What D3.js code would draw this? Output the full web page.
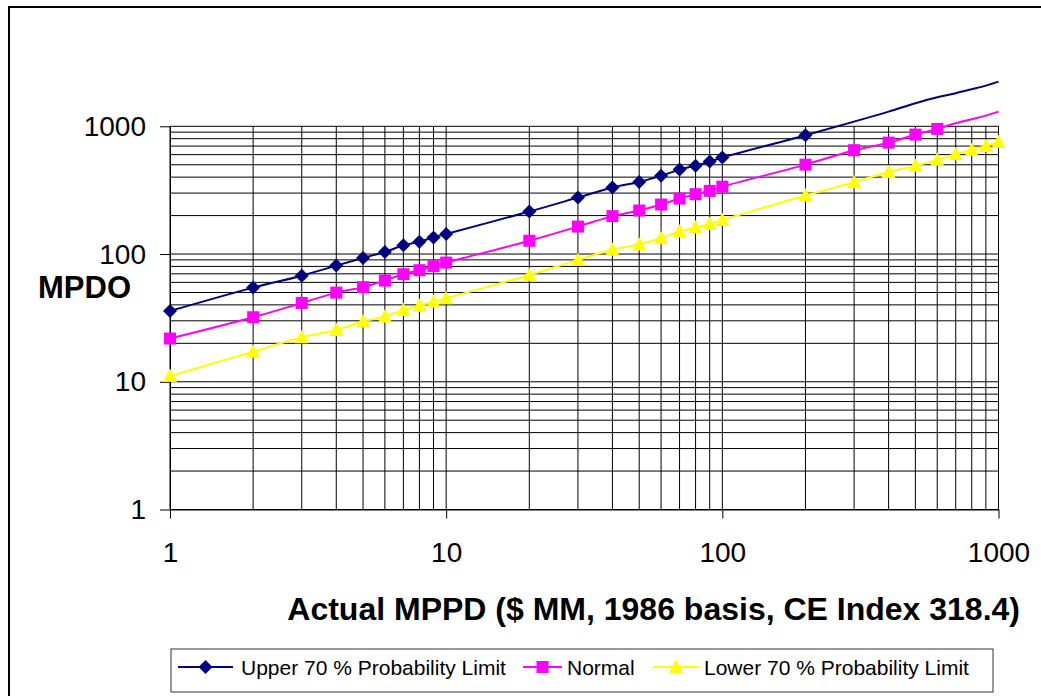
<!DOCTYPE html>
<html>
<head>
<meta charset="utf-8">
<script src="https://cdn.jsdelivr.net/npm/d3@7"></script>
<style>
  html, body { margin: 0; padding: 0; background: #fff; }
  svg { display: block; font-family: "Liberation Sans", Arial, sans-serif; }
</style>
</head>
<body>
<div id="chart"></div>
<script>
// MPDO vs actual MPPD, log-log, three smoothed series
const xValues = [1, 2, 3, 4, 5, 6, 7, 8, 9, 10, 20, 30, 40, 50, 60, 70, 80, 90, 100, 200, 300, 400, 500, 600, 700, 800, 900, 1000];
const upperValues = [35.8, 54.6, 67.7, 81.2, 93.2, 103.8, 117, 125, 135, 143.6, 215, 277, 332, 367, 411, 458, 492, 529, 569, 851, 1088, 1303, 1517, 1690, 1816, 1951, 2083, 2239];
const normalValues = [21.8, 32.0, 41.4, 49.9, 55, 62, 69.5, 74.7, 80.3, 85.7, 127, 164, 198, 219, 244, 272, 294, 312, 337, 501, 650, 745, 861, 954, 1057, 1137, 1213, 1303];
const lowerValues = [11.1, 17.2, 22.3, 25.4, 29.6, 32.4, 36.5, 39.3, 42.4, 45.1, 68.6, 90, 108, 119, 133, 150, 161, 172, 185, 287, 365, 439, 490, 546, 604, 653, 702, 755];
const seriesNames = ["Upper 70 % Probability Limit", "Normal", "Lower 70 % Probability Limit"];
const majorTicks = [1, 10, 100, 1000];

const WIDTH = 1041;
const HEIGHT = 696;
const PLOT = { left: 170, right: 998.5, top: 126.3, bottom: 509.5 };

const SERIES = [
  { name: seriesNames[0], values: upperValues, color: "#000080", marker: "diamond" },
  { name: seriesNames[1], values: normalValues, color: "#ff00ff", marker: "square" },
  { name: seriesNames[2], values: lowerValues, color: "#ffff00", marker: "triangle" },
];

const MARKERS = {
  diamond: "M0,-7L7,0L0,7L-7,0Z",
  square: "M-6,-6H6V6H-6Z",
  triangle: "M0,-7.5L7,6L-7,6Z",
};

const svg = d3.select("#chart")
  .append("svg")
  .attr("width", WIDTH)
  .attr("height", HEIGHT);

// outer chart frame (runs off the right and bottom edges)
svg.append("rect")
  .attr("x", 9).attr("y", 7)
  .attr("width", 1100).attr("height", 800)
  .attr("fill", "none")
  .attr("stroke", "#000")
  .attr("stroke-width", 2);

const x = d3.scaleLog().domain([1, 1000]).range([PLOT.left, PLOT.right]);
const y = d3.scaleLog().domain([1, 1000]).range([PLOT.bottom, PLOT.top]);

// grid at 1..9 of every decade
const gridValues = [];
[1, 10, 100].forEach((d) => {
  for (let k = 1; k <= 9; k++) gridValues.push(d * k);
});
gridValues.push(1000);

const grid = svg.append("g").attr("class", "grid")
  .attr("stroke", "#000").attr("stroke-width", 1);

grid.selectAll(".v").data(gridValues).join("line")
  .attr("class", "v")
  .attr("x1", (d) => x(d)).attr("x2", (d) => x(d))
  .attr("y1", y(1)).attr("y2", y(1000));

grid.selectAll(".h").data(gridValues).join("line")
  .attr("class", "h")
  .attr("x1", x(1)).attr("x2", x(1000))
  .attr("y1", (d) => y(d)).attr("y2", (d) => y(d));

// axes
const yAxis = svg.append("g")
  .attr("transform", `translate(${PLOT.left},0)`)
  .call(d3.axisLeft(y).tickValues(majorTicks).tickFormat(d3.format("d"))
    .tickSize(10).tickSizeOuter(0).tickPadding(14));

const xAxis = svg.append("g")
  .attr("transform", `translate(0,${PLOT.bottom})`)
  .call(d3.axisBottom(x).tickValues(majorTicks).tickFormat(d3.format("d"))
    .tickSize(9).tickSizeOuter(0).tickPadding(24));

[yAxis, xAxis].forEach((a) => {
  a.select(".domain").attr("stroke", "#000");
  a.selectAll(".tick line").attr("stroke", "#000");
  a.selectAll(".tick text")
    .attr("fill", "#000")
    .style("font-size", "28px")
    .style("font-family", "'Liberation Sans', Arial, sans-serif");
});

// axis titles
svg.append("text")
  .attr("x", 38).attr("y", 298)
  .style("font-size", "31px").style("font-weight", "bold")
  .text("MPDO");

svg.append("text")
  .attr("x", 1020).attr("y", 620)
  .attr("text-anchor", "end")
  .style("font-size", "32px").style("font-weight", "bold")
  .text("Actual MPPD ($ MM, 1986 basis, CE Index 318.4)");

// series lines (smoothed) and markers
const line = d3.line()
  .x((d) => x(d.x))
  .y((d) => y(d.y))
  .curve(d3.curveCatmullRom.alpha(0.5));

SERIES.forEach((s) => {
  const pts = xValues.map((xv, i) => ({ x: xv, y: s.values[i] }));

  svg.append("path")
    .datum(pts)
    .attr("fill", "none")
    .attr("stroke", s.color)
    .attr("stroke-width", 2)
    .attr("d", line);

  // markers outside the plot area are not drawn
  svg.selectAll(null)
    .data(pts.filter((d) => d.y <= 1000))
    .join("path")
    .attr("transform", (d) => `translate(${x(d.x)},${y(d.y)})`)
    .attr("d", MARKERS[s.marker])
    .attr("fill", s.color);
});

// legend
const legend = svg.append("g").attr("class", "legend");
legend.append("rect")
  .attr("x", 171).attr("y", 649)
  .attr("width", 822).attr("height", 43)
  .attr("fill", "#fff")
  .attr("stroke", "#333")
  .attr("stroke-width", 1);

const legendItems = [
  { x0: 178, x1: 233, tx: 241 },
  { x0: 523, x1: 562, tx: 567 },
  { x0: 653, x1: 699, tx: 704 },
];
const legendY = 667;

SERIES.forEach((s, i) => {
  const it = legendItems[i];
  legend.append("line")
    .attr("x1", it.x0).attr("x2", it.x1)
    .attr("y1", legendY).attr("y2", legendY)
    .attr("stroke", s.color).attr("stroke-width", 2);
  legend.append("path")
    .attr("transform", `translate(${(it.x0 + it.x1) / 2},${legendY})`)
    .attr("d", MARKERS[s.marker])
    .attr("fill", s.color);
  legend.append("text")
    .attr("x", it.tx).attr("y", legendY)
    .attr("dy", "0.36em")
    .style("font-size", "21px")
    .text(s.name);
});
</script>
</body>
</html>
